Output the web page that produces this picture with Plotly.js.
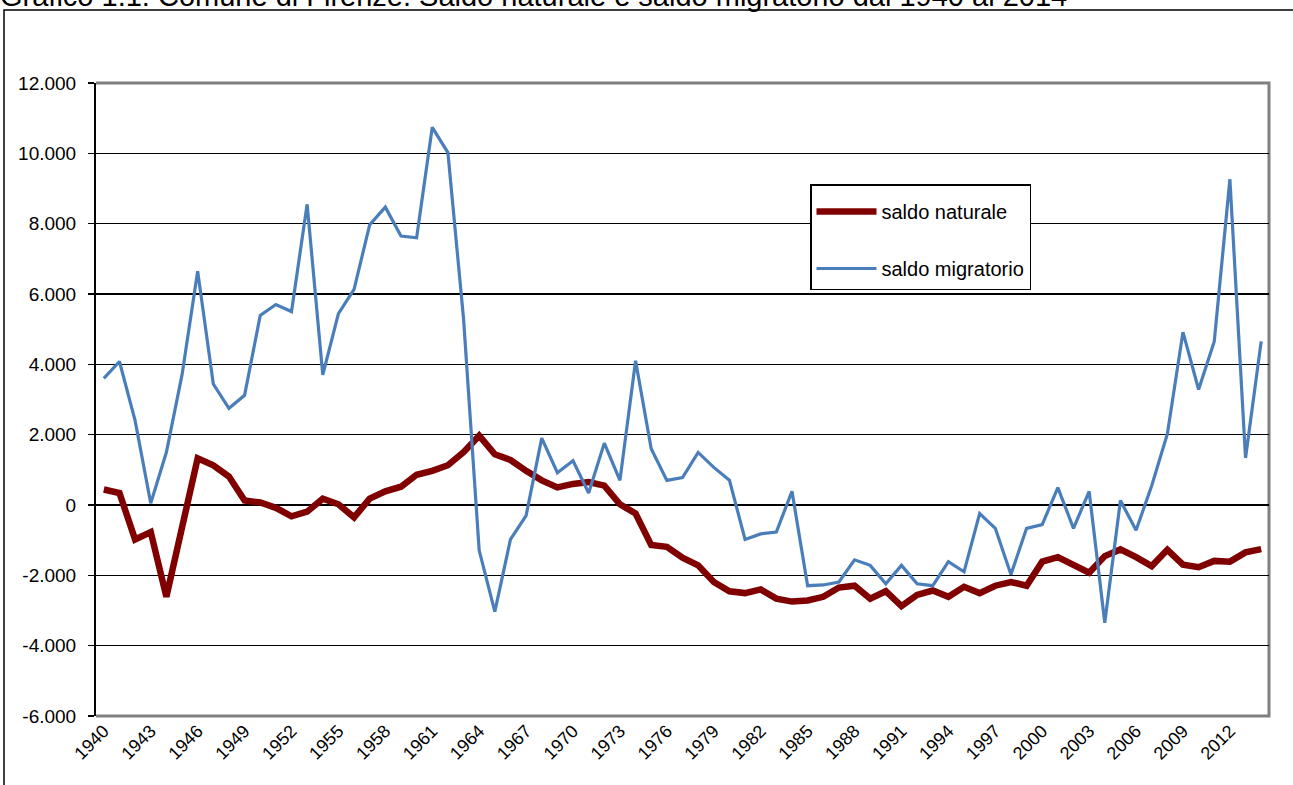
<!DOCTYPE html>
<html>
<head>
<meta charset="utf-8">
<script src="https://cdn.plot.ly/plotly-3.0.1.min.js"></script>
<style>
  html, body { margin: 0; padding: 0; background: #ffffff; }
  #chart { width: 1293px; height: 785px; }
</style>
</head>
<body>
<div id="chart"></div>
<script>
// Years 1940..2014
const years = [
  1940,1941,1942,1943,1944,1945,1946,1947,1948,1949,
  1950,1951,1952,1953,1954,1955,1956,1957,1958,1959,
  1960,1961,1962,1963,1964,1965,1966,1967,1968,1969,
  1970,1971,1972,1973,1974,1975,1976,1977,1978,1979,
  1980,1981,1982,1983,1984,1985,1986,1987,1988,1989,
  1990,1991,1992,1993,1994,1995,1996,1997,1998,1999,
  2000,2001,2002,2003,2004,2005,2006,2007,2008,2009,
  2010,2011,2012,2013,2014
];

const saldoNaturale = [
  440, 340, -980, -770, -2610, -650, 1330, 1130, 810, 130,
  70, -80, -320, -190, 180, 20, -350, 180, 390, 520,
  860, 970, 1130, 1500, 1970, 1440, 1280, 970, 700, 500,
  600, 650, 550, 20, -240, -1140, -1190, -1500, -1716, -2189,
  -2453, -2505, -2400, -2663, -2747, -2716, -2610, -2347, -2295, -2663,
  -2453, -2874, -2558, -2432, -2610, -2326, -2505, -2295, -2189, -2295,
  -1611, -1484, -1716, -1926, -1453, -1263, -1484, -1737, -1274, -1695,
  -1768, -1589, -1611, -1347, -1253
];

const saldoMigratorio = [
  3600, 4080, 2400, 50, 1500, 3700, 6650, 3440, 2750, 3120,
  5390, 5700, 5500, 8550, 3700, 5440, 6130, 7970, 8470, 7650,
  7600, 10740, 10020, 5300, -1290, -3030, -980, -300, 1900, 920,
  1260, 340, 1760, 700, 4100, 1600, 700, 780, 1495, 1070,
  705, -979, -821, -768, 389, -2295, -2274, -2189, -1558, -1716,
  -2242, -1716, -2242, -2295, -1611, -1900, -242, -663, -1979, -663,
  -558, 495, -663, 389, -3347, 126, -716, 547, 2021, 4916,
  3284, 4653, 9263, 1337, 4653
];

const xTickVals = [1940,1943,1946,1949,1952,1955,1958,1961,1964,1967,1970,1973,1976,1979,1982,1985,1988,1991,1994,1997,2000,2003,2006,2009,2012];
const xTickText = xTickVals.map(String);

const yTickVals = [12000, 10000, 8000, 6000, 4000, 2000, 0, -2000, -4000, -6000];
const yTickText = ["12.000", "10.000", "8.000", "6.000", "4.000", "2.000", "0", "-2.000", "-4.000", "-6.000"];

const titleText = "Grafico 1.1: Comune di Firenze. Saldo naturale e saldo migratorio dal 1940 al 2014";

const FONT = "'Liberation Sans', Arial, sans-serif";

const traces = [
  {
    x: years.map(String), y: saldoNaturale, type: 'scatter', mode: 'lines',
    name: 'saldo naturale', legendgroup: 'a',
    line: { color: '#800000', width: 6.5 }
  },
  {
    x: years.map(String), y: saldoMigratorio, type: 'scatter', mode: 'lines',
    name: 'saldo migratorio', legendgroup: 'b',
    line: { color: '#4A7EBB', width: 3.2 }
  }
];

// plot area in pixels: x 96..1269, y 83..716
const L = 96, R = 1293 - 1269, T = 83, B = 785 - 716;
const PW = 1293 - L - R, PH = 785 - T - B;
const px = v => (v - L) / PW;
const py = v => (785 - B - v) / PH;

const layout = {
  width: 1293, height: 785,
  margin: { l: L, r: R, t: T, b: B, pad: 0 },
  paper_bgcolor: '#ffffff', plot_bgcolor: '#ffffff',
  font: { family: FONT, color: '#000000', size: 18 },
  title: {
    text: titleText,
    font: { family: FONT, size: 29, color: '#000000' },
    x: 0, xanchor: 'left', xref: 'container',
    y: 1 - 6 / 785, yanchor: 'bottom', yref: 'container'
  },
  showlegend: true,
  legend: {
    x: px(810), y: py(184), xanchor: 'left', yanchor: 'top',
    bgcolor: '#ffffff', bordercolor: '#000000', borderwidth: 1.5,
    font: { family: FONT, size: 20, color: '#000000' },
    traceorder: 'grouped', tracegroupgap: 28,
    itemwidth: 60,
    title: { text: '&nbsp;', font: { size: 5 } }
  },
  xaxis: {
    type: 'category',
    tickmode: 'array', tickvals: xTickVals.map(String), ticktext: xTickText,
    tickangle: -45,
    tickfont: { family: FONT, size: 18, color: '#000000' },
    showgrid: false, zeroline: false,
    showline: false, ticks: '',
    range: [-0.5, years.length - 0.5]
  },
  yaxis: {
    range: [-6000, 12000],
    tickmode: 'array', tickvals: yTickVals, ticktext: yTickText,
    tickfont: { family: FONT, size: 19, color: '#000000' },
    showgrid: true, gridcolor: '#000000', gridwidth: 1.6,
    zeroline: true, zerolinecolor: '#000000', zerolinewidth: 1.6,
    showline: true, linecolor: '#000000', linewidth: 2,
    ticks: 'outside', ticklen: 6, tickcolor: '#000000', tickwidth: 1.5,
    ticklabelstandoff: 8
  },
  shapes: [
    // gray frame of the plot area (top, right, bottom)
    { type: 'path', xref: 'paper', yref: 'paper',
      path: 'M 0 1 L 1 1 L 1 0 L 0 0',
      line: { color: '#808080', width: 3 }, layer: 'below' },
    // outer chart border (top and left), continuing past the page edges
    { type: 'path', xref: 'paper', yref: 'paper',
      path: `M ${px(4)} ${py(800)} L ${px(4)} ${py(10)} L ${px(1300)} ${py(10)}`,
      line: { color: '#000000', width: 1.5 } }
  ]
};

Plotly.newPlot('chart', traces, layout, { displayModeBar: false, staticPlot: true });
</script>
</body>
</html>
